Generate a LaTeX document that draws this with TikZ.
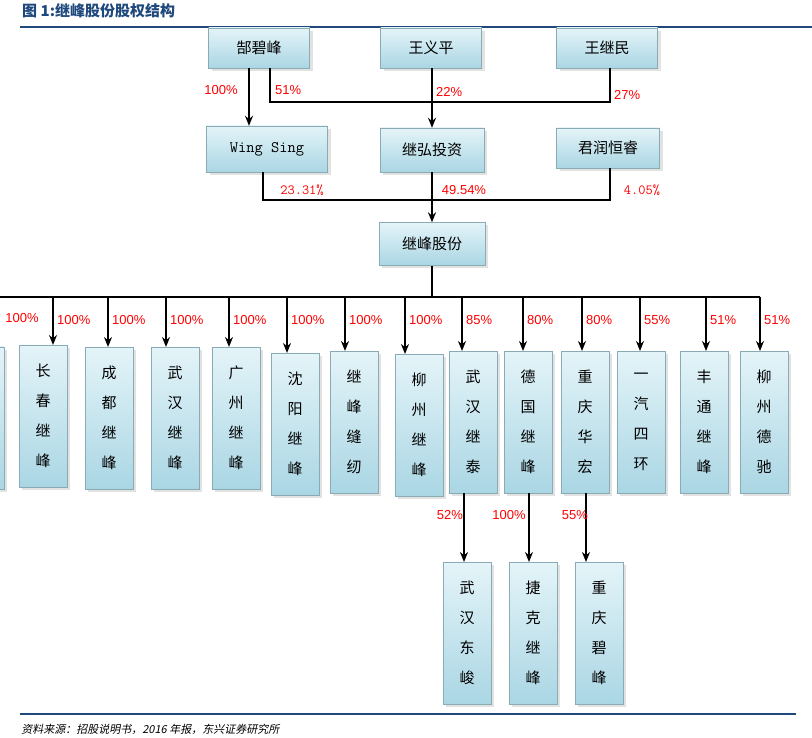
\documentclass[tikz,border=0pt]{standalone}
\usepackage{fontspec}
\setmainfont{Liberation Sans}
\newfontfamily\cjk{Noto Sans CJK SC}
\usetikzlibrary{shadows}
\definecolor{boxtop}{RGB}{228,244,248}
\definecolor{boxbot}{RGB}{170,214,228}
\definecolor{barblue}{RGB}{31,73,125}
\tikzset{
  entbox/.style={draw=boxbot!80!black, line width=0.4pt, top color=boxtop, bottom color=boxbot,
    drop shadow={shadow xshift=3pt, shadow yshift=-3pt, fill=gray!45},
    font=\cjk\fontsize{15}{18}\selectfont, inner sep=0pt},
  vbox/.style={entbox, minimum width=48pt, minimum height=142pt, align=center,
    font=\cjk\fontsize{15}{30}\selectfont},
  pct/.style={text=red, font=\fontsize{13}{15}\selectfont, inner sep=1pt},
  link/.style={black, line width=1.2pt},
  feed/.style={link, line width=1.6pt, -{Stealth[length=10pt,width=8pt]}}
}
\usetikzlibrary{arrows.meta}
\begin{document}
\begin{tikzpicture}[x=1pt, y=-1pt]
  \useasboundingbox (0,0) rectangle (812,738);
  \clip (0,0) rectangle (812,738);

  % Title and footer
  \node[anchor=west, text=barblue, font=\cjk\bfseries\fontsize{15}{17}\selectfont, inner sep=0pt] (title) at (22,11) {图 1:继峰股份股权结构};
  \draw[barblue, line width=1.5pt] (20,27) -- (812,27);
  \draw[barblue, line width=1.5pt] (20,714) -- (796,714);
  \node[anchor=west, font=\cjk\fontsize{11}{13}\selectfont, inner sep=0pt, xslant=0.2] (src) at (22,729) {资料来源：招股说明书，2016 年报，东兴证券研究所};

  % Shareholders
  \node[entbox, minimum width=101pt, minimum height=40pt] (gao) at (259,48) {郜碧峰};
  \node[entbox, minimum width=101pt, minimum height=40pt] (wyp) at (431,48) {王义平};
  \node[entbox, minimum width=101pt, minimum height=40pt] (wjm) at (607,48) {王继民};

  \node[entbox, minimum width=121pt, minimum height=46pt, font=\ttfamily\fontsize{16}{18}\selectfont] (ws) at (267,149) {Wing Sing};
  \node[entbox, minimum width=104pt, minimum height=44pt] (jh) at (432,150) {继弘投资};
  \node[entbox, minimum width=103pt, minimum height=40pt] (jr) at (608,148) {君润恒睿};

  \node[entbox, minimum width=106pt, minimum height=43pt] (jf) at (432,244) {继峰股份};

  % First level
  \draw[feed] (gao.south -| 249,0) -- (ws.north -| 249,0);
  \node[pct] (p1) at (221,90) {100\%};
  \coordinate (m1) at (270,102);
  \coordinate (m2) at (610,102);
  \draw[link] (gao.south -| m1) -- (m1) -- (m2) -- (wjm.south -| m2);
  \draw[feed] (wyp.south -| jh.north) -- (jh.north);
  \node[pct, anchor=west] (p2) at (274,90) {51\%};
  \node[pct, anchor=west] (p3) at (435,92) {22\%};
  \node[pct, anchor=west] (p4) at (613,95) {27\%};

  % Second level
  \coordinate (n1) at (263,200);
  \coordinate (n2) at (610,200);
  \draw[link] (ws.south -| n1) -- (n1) -- (n2) -- (jr.south -| n2);
  \draw[feed] (jh.south) -- (jf.north);
  \node[pct, font=\ttfamily\fontsize{14}{16}\selectfont] (p5) at (302,190) {23.31\%};
  \node[pct] (p6) at (464,190) {49.54\%};
  \node[pct, font=\ttfamily\fontsize{14}{16}\selectfont] (p7) at (642,190) {4.05\%};

  % Subsidiaries
  \coordinate (bus) at (0,297);
  \coordinate (busr) at (760,297);
  \draw[link] (jf.south) -- (jf.south |- bus);
  \draw[link] (bus) -- (busr);
  \node[vbox] (s0) at (-20,418) {};
  \node[pct] (q0) at (22,318) {100\%};
  \foreach \n/\cx/\ax/\ty/\t/\p in {
      1/43/53/345/长\\春\\继\\峰/100,
      2/109/108/347/成\\都\\继\\峰/100,
      3/175/166/347/武\\汉\\继\\峰/100,
      4/236/229/347/广\\州\\继\\峰/100,
      5/295/287/353/沈\\阳\\继\\峰/100,
      6/354/345/351/继\\峰\\缝\\纫/100,
      7/419/405/354/柳\\州\\继\\峰/100,
      8/473/462/351/武\\汉\\继\\泰/85,
      9/528/523/351/德\\国\\继\\峰/80,
      10/585/582/351/重\\庆\\华\\宏/80,
      11/641/640/351/一\\汽\\四\\环/55,
      12/704/706/351/丰\\通\\继\\峰/51,
      13/764/760/351/柳\\州\\德\\驰/51} {
    \node[vbox, anchor=north] (s\n) at (\cx,\ty) {\t};
    \coordinate (t\n) at (\ax,297);
    \draw[feed] (t\n) -- (t\n |- s\n.north);
    \node[pct, anchor=west] (q\n) at (\ax+3,320) {\p\%};
  }

  % Third level
  \foreach \n/\src/\cx/\ax/\p/\lx in {
      14/8/467/464/52/450,
      15/9/533/529/100/509,
      16/10/599/586/55/575} {
    \node[vbox, anchor=north] (s\n) at (\cx,562) {};
    \draw[feed] (s\src.south -| \ax,0) -- (s\n.north -| \ax,0);
    \node[pct] (q\n) at (\lx,515) {\p\%};
  }
  \node[font=\cjk\fontsize{15}{30}\selectfont, align=center] at (s14) {武\\汉\\东\\峻};
  \node[font=\cjk\fontsize{15}{30}\selectfont, align=center] at (s15) {捷\\克\\继\\峰};
  \node[font=\cjk\fontsize{15}{30}\selectfont, align=center] at (s16) {重\\庆\\碧\\峰};
\end{tikzpicture}
\end{document}
